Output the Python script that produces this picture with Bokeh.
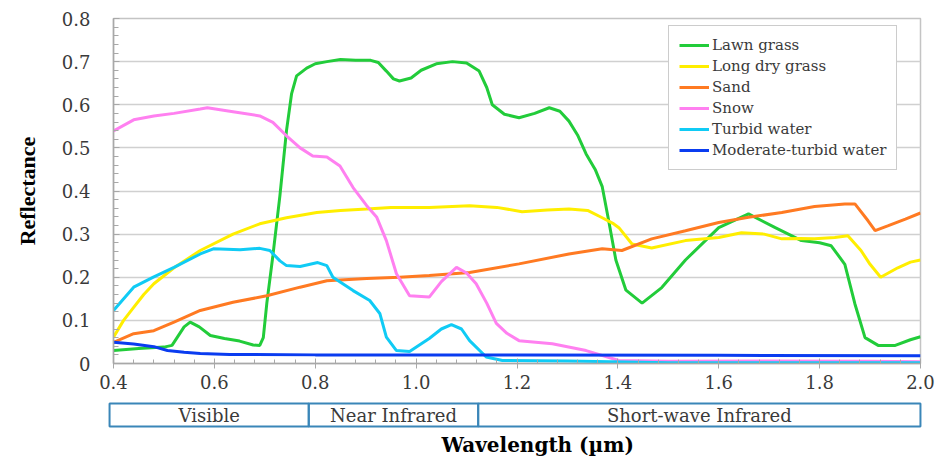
import numpy as np
from bokeh.plotting import figure
from bokeh.models import Range1d, FixedTicker, CustomJSTickFormatter, Title
from bokeh.layouts import column
from bokeh.embed import file_html
from bokeh.resources import INLINE

# ---------------- data ----------------
lawn_wl = [0.40, 0.45, 0.50, 0.516, 0.54, 0.552, 0.57, 0.592, 0.62, 0.65, 0.677, 0.69, 0.697, 0.704,
           0.716, 0.73, 0.743, 0.753, 0.763, 0.783, 0.80, 0.823, 0.85, 0.88, 0.91, 0.925, 0.941, 0.955,
           0.967, 0.99, 1.01, 1.04, 1.072, 1.10, 1.125, 1.14, 1.151, 1.175, 1.204, 1.235, 1.264, 1.285,
           1.303, 1.32, 1.337, 1.355, 1.369, 1.382, 1.396, 1.416, 1.448, 1.487, 1.534, 1.60, 1.659,
           1.712, 1.764, 1.80, 1.823, 1.85, 1.87, 1.89, 1.916, 1.95, 1.98, 2.0]
lawn_r = [0.030, 0.035, 0.038, 0.042, 0.085, 0.096, 0.085, 0.065, 0.058, 0.052, 0.043, 0.042, 0.060,
          0.140, 0.250, 0.390, 0.540, 0.625, 0.667, 0.685, 0.695, 0.700, 0.705, 0.703, 0.703, 0.698,
          0.678, 0.660, 0.655, 0.662, 0.680, 0.695, 0.700, 0.697, 0.678, 0.640, 0.600, 0.578, 0.570,
          0.580, 0.593, 0.585, 0.562, 0.530, 0.486, 0.450, 0.410, 0.330, 0.240, 0.170, 0.140, 0.176,
          0.240, 0.315, 0.347, 0.315, 0.285, 0.280, 0.273, 0.230, 0.138, 0.060, 0.042, 0.042, 0.055,
          0.062]

dry_wl = [0.40, 0.42, 0.44, 0.46, 0.48, 0.52, 0.572, 0.637, 0.69, 0.743, 0.803, 0.85, 0.902, 0.95,
          1.026, 1.106, 1.16, 1.21, 1.26, 1.303, 1.34, 1.369, 1.39, 1.402, 1.428, 1.467, 1.534, 1.60,
          1.645, 1.69, 1.725, 1.76, 1.79, 1.83, 1.856, 1.882, 1.90, 1.921, 1.955, 1.98, 2.0]
dry_r = [0.061, 0.100, 0.130, 0.160, 0.185, 0.222, 0.262, 0.300, 0.324, 0.338, 0.350, 0.355, 0.358,
         0.362, 0.362, 0.366, 0.362, 0.352, 0.356, 0.358, 0.355, 0.338, 0.325, 0.315, 0.277, 0.268,
         0.285, 0.292, 0.303, 0.300, 0.289, 0.290, 0.289, 0.292, 0.296, 0.262, 0.230, 0.200, 0.222,
         0.235, 0.240]

sand_wl = [0.40, 0.44, 0.48, 0.52, 0.572, 0.637, 0.704, 0.77, 0.823, 0.902, 0.967, 1.026, 1.106,
           1.204, 1.303, 1.369, 1.408, 1.467, 1.534, 1.60, 1.659, 1.725, 1.79, 1.85, 1.87, 1.896,
           1.91, 1.935, 1.97, 2.0]
sand_r = [0.049, 0.069, 0.076, 0.096, 0.123, 0.142, 0.157, 0.177, 0.192, 0.197, 0.200, 0.204, 0.211,
          0.231, 0.254, 0.266, 0.262, 0.289, 0.308, 0.327, 0.339, 0.350, 0.364, 0.370, 0.370, 0.331,
          0.308, 0.319, 0.335, 0.349]

snow_wl = [0.40, 0.44, 0.48, 0.52, 0.572, 0.586, 0.637, 0.69, 0.716, 0.743, 0.77, 0.795, 0.823,
           0.849, 0.875, 0.902, 0.922, 0.941, 0.961, 0.987, 1.026, 1.05, 1.08, 1.10, 1.119, 1.14,
           1.159, 1.18, 1.204, 1.27, 1.337, 1.402, 1.5, 1.7, 1.9, 2.0]
snow_r = [0.539, 0.565, 0.574, 0.580, 0.590, 0.593, 0.584, 0.574, 0.559, 0.528, 0.500, 0.481, 0.479,
          0.458, 0.408, 0.366, 0.339, 0.285, 0.208, 0.157, 0.154, 0.190, 0.223, 0.210, 0.185, 0.140,
          0.093, 0.070, 0.053, 0.046, 0.030, 0.007, 0.005, 0.006, 0.005, 0.004]

turbid_wl = [0.40, 0.44, 0.48, 0.52, 0.572, 0.598, 0.651, 0.69, 0.71, 0.73, 0.743, 0.77, 0.805,
             0.823, 0.835, 0.875, 0.908, 0.928, 0.941, 0.961, 0.987, 1.026, 1.05, 1.07, 1.09, 1.106,
             1.139, 1.171, 1.3, 1.5, 2.0]
turbid_r = [0.123, 0.177, 0.201, 0.223, 0.254, 0.266, 0.264, 0.267, 0.262, 0.238, 0.227, 0.225,
            0.234, 0.227, 0.200, 0.169, 0.146, 0.116, 0.061, 0.030, 0.028, 0.058, 0.080, 0.090,
            0.080, 0.053, 0.015, 0.007, 0.006, 0.002, 0.002]

modturbid_wl = [0.40, 0.44, 0.48, 0.507, 0.54, 0.572, 0.63, 0.8, 1.2, 1.6, 2.0]
modturbid_r = [0.049, 0.045, 0.039, 0.030, 0.026, 0.023, 0.021, 0.020, 0.020, 0.019, 0.018]

series_names = ["Lawn grass", "Long dry grass", "Sand", "Snow", "Turbid water",
                "Moderate-turbid water"]
series_colors = ["#22cc3a", "#ffee00", "#ff7a22", "#ff80f0", "#10cbf5", "#0a3cf0"]

x_ticks = [0.4, 0.6, 0.8, 1.0, 1.2, 1.4, 1.6, 1.8, 2.0]
y_ticks = [0.0, 0.1, 0.2, 0.3, 0.4, 0.5, 0.6, 0.7, 0.8]

band_names = ["Visible", "Near Infrared", "Short-wave Infrared"]
band_edges = [0.392, 0.787, 1.123, 2.0]

FONT = "DejaVu Serif"
TXT = "#3a3a3a"

# ---------------- main figure ----------------
p = figure(x_range=Range1d(0.4, 2.0), y_range=Range1d(0, 0.8),
           frame_width=807, frame_height=345,
           min_border_left=113, min_border_right=18, min_border_top=18, min_border_bottom=35,
           toolbar_location=None, output_backend="svg")

xs_all = [lawn_wl, dry_wl, sand_wl, snow_wl, turbid_wl, modturbid_wl]
ys_all = [lawn_r, dry_r, sand_r, snow_r, turbid_r, modturbid_r]
for xs, ys, name, col in zip(xs_all, ys_all, series_names, series_colors):
    p.line(xs, ys, line_color=col, line_width=3, legend_label=name)

p.xgrid.visible = False
p.ygrid.grid_line_color = "#d0d0d0"
p.ygrid.grid_line_width = 1.5
p.outline_line_color = "#c4c4c4"
p.outline_line_width = 1.5

p.xaxis.ticker = FixedTicker(ticks=x_ticks, minor_ticks=list(np.round(np.arange(0.4, 2.001, 0.04), 3)))
p.yaxis.ticker = FixedTicker(ticks=y_ticks, minor_ticks=list(np.round(np.arange(0.0, 0.801, 0.02), 3)))
p.xaxis.formatter = CustomJSTickFormatter(code="return tick.toFixed(1);")
p.yaxis.formatter = CustomJSTickFormatter(code="return Math.abs(tick) < 1e-9 ? '0' : tick.toFixed(1);")

for ax in (p.xaxis, p.yaxis):
    ax.axis_line_color = "#a8a8a8"
    ax.axis_line_width = 1.5
    ax.major_tick_line_color = "#a8a8a8"
    ax.minor_tick_line_color = "#a8a8a8"
    ax.major_label_text_font = FONT
    ax.major_label_text_font_size = "18px"
    ax.major_label_text_color = TXT

p.xaxis.major_tick_in = 5
p.xaxis.major_tick_out = 5
p.xaxis.minor_tick_in = 4
p.xaxis.minor_tick_out = 0
p.xaxis.major_label_standoff = 6

p.yaxis.major_tick_in = 6
p.yaxis.major_tick_out = 0
p.yaxis.minor_tick_in = 5
p.yaxis.minor_tick_out = 0
p.yaxis.major_label_standoff = 23
p.yaxis.axis_label = "Reflectance"
p.yaxis.axis_label_text_font = "Liberation Serif"
p.yaxis.axis_label_text_font_size = "22px"
p.yaxis.axis_label_text_font_style = "bold"
p.yaxis.axis_label_text_color = "#000000"
p.yaxis.axis_label_standoff = 19

lg = p.legend[0]
lg.location = (555, 193)
lg.label_text_font = FONT
lg.label_text_font_size = "15px"
lg.label_text_color = TXT
lg.glyph_width = 30
lg.glyph_height = 18
lg.label_height = 18
lg.label_standoff = 3
lg.spacing = 3
lg.padding = 10
lg.margin = 0
lg.border_line_color = "#999999"
lg.border_line_width = 1.5
lg.background_fill_color = "white"
lg.background_fill_alpha = 1.0

# ---------------- band figure ----------------
b = figure(x_range=Range1d(0.38, 2.01), y_range=Range1d(0, 1),
           frame_width=822, frame_height=27,
           min_border_left=103, min_border_right=13, min_border_top=3, min_border_bottom=0,
           toolbar_location=None, output_backend="svg")
b.axis.visible = False
b.grid.visible = False
b.outline_line_color = None

lefts = band_edges[:-1]
rights = band_edges[1:]
centers = [(l + r) / 2 for l, r in zip(lefts, rights)]
b.quad(left=lefts, right=rights, bottom=2 / 27, top=25 / 27,
       fill_color=None, line_color="#3a86b8", line_width=2)
b.text(x=centers, y=[0.5] * len(centers), text=band_names,
       text_align="center", text_baseline="middle",
       text_font={"value": FONT}, text_font_size="18px", text_color=TXT)

t = Title(text="Wavelength (µm)", align="left", offset=338, standoff=4,
          text_font=FONT, text_font_size="20px", text_font_style="bold",
          text_color="#000000")
b.add_layout(t, "below")

layout = column(p, column(b, spacing=0), spacing=0)
open("out.html", "w").write(file_html(layout, INLINE))
